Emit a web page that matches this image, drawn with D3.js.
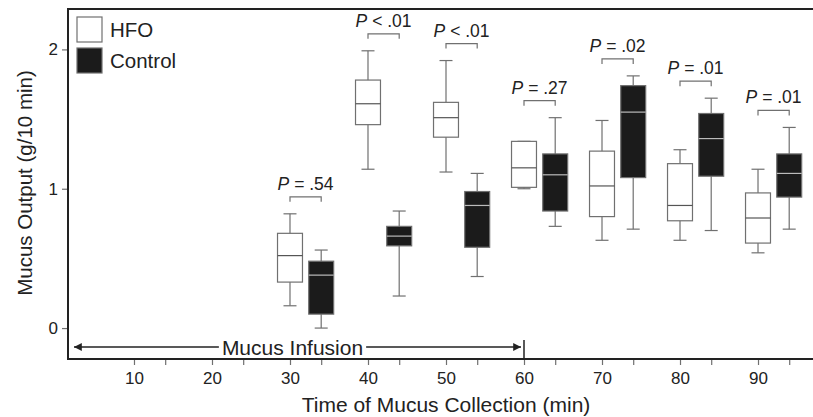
<!DOCTYPE html>
<html>
<head>
<meta charset="utf-8">
<script src="https://cdn.jsdelivr.net/npm/d3@7"></script>
<style>
  body { margin: 0; background: #fff; }
  svg { display: block; font-family: "Liberation Sans", Arial, sans-serif; }
</style>
</head>
<body>
<div id="chart"></div>
<script>
// collection times (min)
const times = [30, 40, 50, 60, 70, 80, 90];
const xTicks = [10, 20, 30, 40, 50, 60, 70, 80, 90];
const yTicks = [0, 1, 2];

// box stats per time: [whiskerLow, q1, median, q3, whiskerHigh]
const hfo = [
  [0.16, 0.33, 0.52, 0.68, 0.82],
  [1.14, 1.46, 1.61, 1.78, 1.99],
  [1.12, 1.37, 1.51, 1.62, 1.92],
  [1.00, 1.01, 1.15, 1.34, 1.34],
  [0.63, 0.80, 1.02, 1.27, 1.49],
  [0.63, 0.77, 0.88, 1.18, 1.28],
  [0.54, 0.61, 0.79, 0.97, 1.14]
];
const control = [
  [0.00, 0.10, 0.38, 0.48, 0.56],
  [0.23, 0.59, 0.66, 0.73, 0.84],
  [0.37, 0.58, 0.88, 0.98, 1.11],
  [0.73, 0.84, 1.10, 1.25, 1.51],
  [0.71, 1.08, 1.55, 1.74, 1.81],
  [0.70, 1.09, 1.36, 1.54, 1.65],
  [0.71, 0.94, 1.11, 1.25, 1.44]
];
const pLabels = ["= .54", "< .01", "< .01", "= .27", "= .02", "= .01", "= .01"];

const width = 813, height = 417;
const margin = {top: 9, right: 0, bottom: 58, left: 68};
const ctrlShift = 4;   // control box sits 4 min to the right of its HFO box
const boxW = 3.2;      // box width in minutes

const svg = d3.select("#chart").append("svg")
  .attr("width", width)
  .attr("height", height);

const x = d3.scaleLinear().domain([1.54, 97.05]).range([margin.left, width - margin.right]);
const y = d3.scaleLinear().domain([-0.222, 2.29]).range([height - margin.bottom, margin.top]);

const gray = "#707070";
const dark = "#1b1b1b";
const ink = "#222";

// axes
const xAxis = d3.axisBottom(x)
  .tickValues(xTicks.concat(xTicks.map(d => d + ctrlShift)))
  .tickSize(6)
  .tickFormat(d => xTicks.includes(d) ? d : "");
const gx = svg.append("g")
  .attr("transform", "translate(0," + y.range()[0] + ")")
  .call(xAxis);
gx.select(".domain").remove();
gx.selectAll(".tick line").attr("stroke", gray).attr("stroke-width", 1.2);
gx.selectAll(".tick text").attr("font-size", 17).attr("fill", ink).attr("dy", "0.92em")
  .attr("font-family", "Liberation Sans, Arial, sans-serif");

const yAxis = d3.axisLeft(y).tickValues(yTicks).tickSize(6).tickFormat(d3.format("d"));
const gy = svg.append("g")
  .attr("transform", "translate(" + margin.left + ",0)")
  .call(yAxis);
gy.select(".domain").remove();
gy.selectAll(".tick line").attr("stroke", gray).attr("stroke-width", 1.2);
gy.selectAll(".tick text").attr("font-size", 17).attr("fill", ink).attr("x", -10)
  .attr("font-family", "Liberation Sans, Arial, sans-serif");

// frame: left, top, bottom (open on the right)
svg.append("path")
  .attr("d", "M" + width + "," + y.range()[1] + "H" + margin.left + "V" + y.range()[0] + "H" + width)
  .attr("fill", "none")
  .attr("stroke", ink)
  .attr("stroke-width", 2);

// boxes
function drawBox(t, s, fill, medColor) {
  const g = svg.append("g");
  const cx = x(t);
  const half = (x(t + boxW) - x(t)) / 2;
  const cap = 6.5;
  g.append("line")
    .attr("x1", cx).attr("x2", cx).attr("y1", y(s[4])).attr("y2", y(s[0]))
    .attr("stroke", gray).attr("stroke-width", 1.2);
  [s[0], s[4]].forEach(v => {
    g.append("line")
      .attr("x1", cx - cap).attr("x2", cx + cap).attr("y1", y(v)).attr("y2", y(v))
      .attr("stroke", gray).attr("stroke-width", 1.2);
  });
  g.append("rect")
    .attr("x", cx - half).attr("width", half * 2)
    .attr("y", y(s[3])).attr("height", y(s[1]) - y(s[3]))
    .attr("fill", fill).attr("stroke", gray).attr("stroke-width", 1.2);
  g.append("line")
    .attr("x1", cx - half).attr("x2", cx + half).attr("y1", y(s[2])).attr("y2", y(s[2]))
    .attr("stroke", medColor).attr("stroke-width", 1.2);
}

times.forEach((t, i) => {
  drawBox(t, hfo[i], "#fff", "#555");
  drawBox(t + ctrlShift, control[i], dark, "#bbb");
});

// P-value brackets
times.forEach((t, i) => {
  const top = Math.max(hfo[i][4], control[i][4]);
  const by = y(top) - 17;
  const x1 = x(t), x2 = x(t + ctrlShift);
  svg.append("path")
    .attr("d", "M" + x1 + "," + (by + 5) + "V" + by + "H" + x2 + "V" + (by + 5))
    .attr("fill", "none").attr("stroke", gray).attr("stroke-width", 1.2);
  const txt = svg.append("text")
    .attr("x", (x1 + x2) / 2).attr("y", by - 7)
    .attr("text-anchor", "middle")
    .attr("font-size", 17.5).attr("fill", ink);
  txt.append("tspan").attr("font-style", "italic").text("P");
  txt.append("tspan").text(" " + pLabels[i]);
});

// mucus infusion arrow (start of record to 60 min)
const arrowY = 347;
svg.append("defs").append("marker")
  .attr("id", "arrow")
  .attr("viewBox", "0 0 10 10")
  .attr("refX", 10).attr("refY", 5)
  .attr("markerWidth", 9).attr("markerHeight", 6)
  .attr("orient", "auto-start-reverse")
  .append("path").attr("d", "M0,0L10,5L0,10z").attr("fill", ink);
const label = svg.append("text")
  .attr("x", 292.5).attr("y", arrowY + 7.5)
  .attr("text-anchor", "middle")
  .attr("font-size", 21).attr("fill", ink)
  .text("Mucus Infusion");
const lb = label.node().getBBox();
svg.append("line")
  .attr("x1", margin.left + 6).attr("x2", lb.x - 3)
  .attr("y1", arrowY).attr("y2", arrowY)
  .attr("stroke", ink).attr("stroke-width", 1.3)
  .attr("marker-start", "url(#arrow)");
svg.append("line")
  .attr("x1", lb.x + lb.width + 3).attr("x2", x(60) - 3)
  .attr("y1", arrowY).attr("y2", arrowY)
  .attr("stroke", ink).attr("stroke-width", 1.3)
  .attr("marker-end", "url(#arrow)");
svg.append("line")
  .attr("x1", x(60)).attr("x2", x(60))
  .attr("y1", arrowY - 7).attr("y2", y.range()[0])
  .attr("stroke", ink).attr("stroke-width", 1.5);

// legend
const legend = [["HFO", "#fff"], ["Control", dark]];
legend.forEach((d, i) => {
  svg.append("rect")
    .attr("x", 77).attr("y", 17 + i * 31)
    .attr("width", 25).attr("height", 25)
    .attr("fill", d[1]).attr("stroke", gray).attr("stroke-width", 1.2);
  svg.append("text")
    .attr("x", 110).attr("y", 37 + i * 31)
    .attr("font-size", 20.5).attr("fill", ink)
    .text(d[0]);
});

// axis titles
svg.append("text")
  .attr("x", 446).attr("y", 412)
  .attr("text-anchor", "middle")
  .attr("font-size", 21).attr("fill", ink)
  .text("Time of Mucus Collection (min)");
svg.append("text")
  .attr("transform", "translate(32,183) rotate(-90)")
  .attr("text-anchor", "middle")
  .attr("font-size", 20.5).attr("fill", ink)
  .text("Mucus Output (g/10 min)");
</script>
</body>
</html>
